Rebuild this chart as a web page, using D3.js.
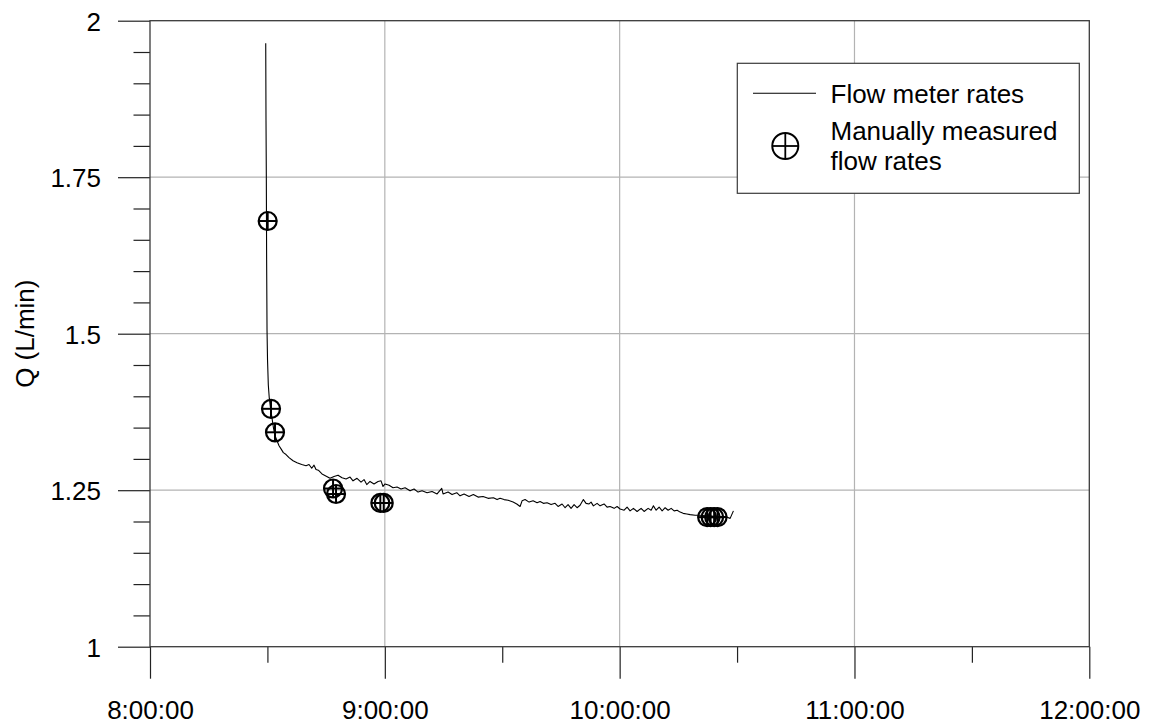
<!DOCTYPE html>
<html>
<head>
<meta charset="utf-8">
<script src="https://cdn.jsdelivr.net/npm/d3@7"></script>
<style>
  html, body { margin: 0; padding: 0; background: #fff; }
  svg { display: block; font-family: "Liberation Sans", Arial, sans-serif; }
</style>
</head>
<body>
<svg id="chart" width="1149" height="724"></svg>
<script>
// ---- data (minutes after 8:00:00, flow in L/min) ----
const flowMinutes = [
  29.57, 29.64, 29.72, 29.80, 29.90, 30.03, 30.23, 30.48, 30.80, 31.18,
  31.56, 31.94, 32.46, 32.97, 33.48, 34.07, 34.76, 35.52, 36.55, 37.57,
  38.77, 39.87, 40.63, 41.32, 41.91, 42.42, 43.01, 43.95, 45.16, 46.00,
  47.02, 48.04, 49.07, 50.09, 51.11, 51.88, 52.90, 53.92, 54.69, 55.38,
  56.22, 57.24, 58.27, 59.03, 59.54, 60.06,
  61.08, 62.10, 63.12, 64.15, 65.17, 66.45, 67.47, 68.49, 69.51, 70.79,
  72.07, 73.35, 74.54, 74.88, 76.16, 77.18, 78.38, 79.22, 80.25, 81.52,
  82.62, 83.82, 85.10, 86.38, 87.74, 88.68, 89.45, 90.47, 91.49, 92.77,
  93.71, 94.56, 95.07, 95.84, 96.86, 97.88, 98.90, 99.67, 100.51, 101.46,
  102.48, 103.50, 104.27, 105.29, 106.06, 106.82, 107.59, 108.36, 109.12, 109.89,
  110.73, 111.42, 112.19, 112.70, 113.29, 114.23, 115.00, 116.02, 116.79, 117.56,
  118.58, 119.35, 120.11, 121.14, 121.90, 122.67, 123.52, 124.46, 125.48, 126.25,
  127.27, 128.04, 128.63, 129.32, 130.09, 130.86, 131.62, 132.39, 133.16, 133.92,
  134.69, 135.46,
  136.22, 137.17, 138.01, 139.29, 140.56, 141.84, 143.12, 144.40, 145.67, 146.95,
  148.23, 149.07];
const flowValues = [
  1.964, 1.841, 1.752, 1.618, 1.506, 1.458, 1.418, 1.397, 1.381, 1.365,
  1.349, 1.337, 1.329, 1.321, 1.316, 1.310, 1.307, 1.302, 1.297, 1.294,
  1.291, 1.289, 1.291, 1.285, 1.290, 1.283, 1.282, 1.276, 1.272, 1.269,
  1.272, 1.274, 1.270, 1.268, 1.271, 1.265, 1.269, 1.263, 1.267, 1.259,
  1.264, 1.260, 1.264, 1.265, 1.256, 1.260,
  1.258, 1.254, 1.255, 1.252, 1.254, 1.249, 1.252, 1.247, 1.249, 1.246,
  1.248, 1.244, 1.253, 1.244, 1.247, 1.243, 1.246, 1.241, 1.244, 1.240,
  1.243, 1.239, 1.240, 1.237, 1.238, 1.235, 1.237, 1.235, 1.234, 1.231,
  1.228, 1.224, 1.233, 1.235, 1.231, 1.233, 1.230, 1.232, 1.229, 1.230,
  1.227, 1.229, 1.224, 1.228, 1.222, 1.227, 1.221, 1.227, 1.222, 1.226,
  1.235, 1.229, 1.228, 1.231, 1.225, 1.229, 1.225, 1.228, 1.223, 1.224,
  1.221, 1.224, 1.220, 1.218, 1.223, 1.217, 1.221, 1.216, 1.221, 1.216,
  1.221, 1.218, 1.225, 1.218, 1.223, 1.217, 1.222, 1.218, 1.221, 1.217,
  1.218, 1.215,
  1.213, 1.212, 1.211, 1.210, 1.210, 1.209, 1.209, 1.208, 1.208, 1.208,
  1.205, 1.217];

const manualMinutes = [30.07, 30.92, 31.94, 46.77, 47.53, 58.85, 59.72, 142.35, 143.24, 144.14, 145.03];
const manualValues  = [1.680, 1.380, 1.3425, 1.2527, 1.2439, 1.2296, 1.2296, 1.207, 1.207, 1.207, 1.207];

const xTickHours  = [8, 9, 10, 11, 12];
const xTickLabels = ["8:00:00", "9:00:00", "10:00:00", "11:00:00", "12:00:00"];
const xMinorHours = [8.5, 9.5, 10.5, 11.5];
const yTickValues = [1, 1.25, 1.5, 1.75, 2];
const yTickLabels = ["1", "1.25", "1.5", "1.75", "2"];
const yMinorValues = [1.05, 1.1, 1.15, 1.2, 1.3, 1.35, 1.4, 1.45, 1.55, 1.6, 1.65, 1.7, 1.8, 1.85, 1.9, 1.95];

const seriesNames = ["Flow meter rates", ["Manually measured", "flow rates"]];
const yTitle = "Q (L/min)";

// ---- helpers ----
const base = new Date(2000, 0, 1, 8, 0, 0).getTime();
const tMin = m => new Date(base + m * 60000);
const tHour = h => new Date(base + (h - 8) * 3600000);

const svg = d3.select("#chart");
const L = 150, R = 1089.3, T = 20.7, B = 646.7;

const x = d3.scaleTime().domain([tHour(8), tHour(12)]).range([L, R]);
const y = d3.scaleLinear().domain([1, 2]).range([B, T]);

const FONT = 26;
const axisColor = "#3a3a3a";
const gridColor = "#b3b3b3";

// grid
const grid = svg.append("g");
grid.selectAll("line.vg").data(xTickHours.slice(1, -1)).join("line")
  .attr("x1", d => x(tHour(d))).attr("x2", d => x(tHour(d)))
  .attr("y1", T).attr("y2", B)
  .attr("stroke", gridColor).attr("stroke-width", 1.2);
grid.selectAll("line.hg").data(yTickValues.slice(1, -1)).join("line")
  .attr("x1", L).attr("x2", R)
  .attr("y1", d => y(d)).attr("y2", d => y(d))
  .attr("stroke", gridColor).attr("stroke-width", 1.2);

// axes
const xAxisMinor = d3.axisBottom(x).tickValues(xMinorHours.map(tHour)).tickSize(16).tickFormat("");
const xAxis = d3.axisBottom(x).tickValues(xTickHours.map(tHour)).tickSize(32).tickPadding(22)
  .tickFormat((d, i) => xTickLabels[i]);
const yAxisMinor = d3.axisLeft(y).tickValues(yMinorValues).tickSize(16.5).tickFormat("");
const yAxis = d3.axisLeft(y).tickValues(yTickValues).tickSize(32).tickPadding(17)
  .tickFormat((d, i) => yTickLabels[i]);

function styleAxis(g) {
  g.select(".domain").remove();
  g.selectAll(".tick line").attr("stroke", "#222").attr("stroke-width", 1.2);
  g.selectAll(".tick text").attr("fill", "#000").attr("font-size", FONT)
    .attr("font-family", "'Liberation Sans', Arial, sans-serif");
}
svg.append("g").attr("transform", `translate(0,${B})`).call(xAxisMinor).call(styleAxis);
svg.append("g").attr("transform", `translate(0,${B})`).call(xAxis).call(styleAxis);
svg.append("g").attr("transform", `translate(${L},0)`).call(yAxisMinor).call(styleAxis);
const yg = svg.append("g").attr("transform", `translate(${L},0)`).call(yAxis).call(styleAxis);
yg.selectAll(".tick text").attr("dy", "0.36em");

// frame
svg.append("rect").attr("x", L).attr("y", T).attr("width", R - L).attr("height", B - T)
  .attr("fill", "none").attr("stroke", axisColor).attr("stroke-width", 1.3);

// y title
svg.append("text")
  .attr("transform", `translate(34,${(T + B) / 2}) rotate(-90)`)
  .attr("text-anchor", "middle").attr("font-size", FONT).attr("fill", "#000")
  .text(yTitle);

// flow meter line
const flowData = flowMinutes.map((m, i) => ({ t: tMin(m), v: flowValues[i] }));
svg.append("path").datum(flowData)
  .attr("fill", "none").attr("stroke", "#000").attr("stroke-width", 1.1)
  .attr("stroke-linejoin", "round")
  .attr("d", d3.line().x(d => x(d.t)).y(d => y(d.v)));

// manual markers
function drawMarker(g, r, sw) {
  g.append("circle").attr("r", r).attr("fill", "none").attr("stroke", "#000").attr("stroke-width", sw);
  g.append("line").attr("x1", -r).attr("x2", r).attr("y1", 0).attr("y2", 0).attr("stroke", "#000").attr("stroke-width", sw * 0.9);
  g.append("line").attr("y1", -r).attr("y2", r).attr("x1", 0).attr("x2", 0).attr("stroke", "#000").attr("stroke-width", sw * 0.9);
}
const manualData = manualMinutes.map((m, i) => ({ t: tMin(m), v: manualValues[i] }));
svg.append("g").selectAll("g.mk").data(manualData).join("g")
  .attr("transform", d => `translate(${x(d.t)},${y(d.v)})`)
  .each(function () { drawMarker(d3.select(this), 9, 2.2); });

// legend
const lg = svg.append("g");
lg.append("rect").attr("x", 737.3).attr("y", 63.3).attr("width", 342).attr("height", 130)
  .attr("fill", "#fff").attr("stroke", axisColor).attr("stroke-width", 1.2);
lg.append("line").attr("x1", 753).attr("x2", 816).attr("y1", 93.3).attr("y2", 93.3)
  .attr("stroke", "#000").attr("stroke-width", 1.1);
lg.append("text").attr("x", 830.5).attr("y", 102.7).attr("font-size", FONT).attr("fill", "#000")
  .text(seriesNames[0]);
const lm = lg.append("g").attr("transform", "translate(785.3,146)");
drawMarker(lm, 13, 2);
lg.append("text").attr("x", 830.5).attr("y", 140).attr("font-size", FONT).attr("fill", "#000")
  .text(seriesNames[1][0]);
lg.append("text").attr("x", 830.5).attr("y", 170).attr("font-size", FONT).attr("fill", "#000")
  .text(seriesNames[1][1]);
</script>
</body>
</html>
